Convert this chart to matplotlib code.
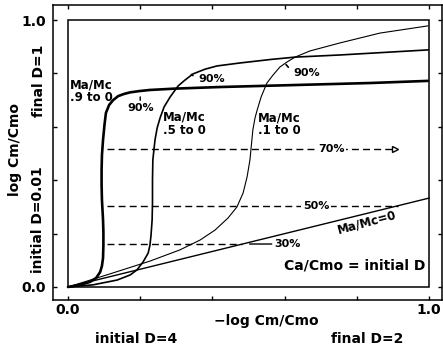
import matplotlib
matplotlib.use("Agg")
import matplotlib.pyplot as plt
from matplotlib.patches import Rectangle

plt.rcParams['font.family'] = ['DejaVu Sans']
plt.rcParams['font.weight'] = 'bold'
plt.rcParams['lines.scale_dashes'] = False

# Ma/Mc = .9 -> 0
x_09 = [0.000, 0.033, 0.061, 0.078, 0.089, 0.094, 0.097, 0.098, 0.098, 0.097, 0.094, 0.093, 0.093,
        0.094, 0.097, 0.101, 0.105, 0.114, 0.125, 0.139, 0.155, 0.172, 0.199, 0.227, 0.296, 0.421,
        0.643, 0.837, 0.997]
y_09 = [0.000, 0.008, 0.019, 0.034, 0.056, 0.079, 0.109, 0.157, 0.206, 0.251, 0.326, 0.382, 0.438,
        0.494, 0.551, 0.607, 0.652, 0.682, 0.700, 0.715, 0.723, 0.729, 0.734, 0.738, 0.743, 0.749,
        0.757, 0.764, 0.772]

# Ma/Mc = .5 -> 0
x_05 = [0.000, 0.069, 0.136, 0.172, 0.191, 0.208, 0.222, 0.227, 0.230, 0.233, 0.234, 0.234, 0.235,
        0.241, 0.247, 0.255, 0.266, 0.283, 0.305, 0.324, 0.346, 0.380, 0.413, 0.476, 0.560, 0.629,
        0.753, 0.997]
y_05 = [0.000, 0.008, 0.026, 0.045, 0.064, 0.094, 0.127, 0.157, 0.195, 0.251, 0.315, 0.401, 0.476,
        0.551, 0.596, 0.633, 0.674, 0.712, 0.753, 0.775, 0.798, 0.816, 0.828, 0.839, 0.852, 0.861,
        0.869, 0.888]

# Ma/Mc = .1 -> 0
x_01 = [0.000, 0.116, 0.227, 0.310, 0.366, 0.407, 0.443, 0.468, 0.485, 0.496, 0.504, 0.508, 0.512,
        0.518, 0.524, 0.535, 0.551, 0.568, 0.587, 0.607, 0.629, 0.670, 0.753, 0.864, 0.997]
y_01 = [0.000, 0.049, 0.097, 0.139, 0.176, 0.213, 0.258, 0.300, 0.352, 0.412, 0.476, 0.532, 0.588,
        0.633, 0.663, 0.712, 0.764, 0.794, 0.824, 0.843, 0.861, 0.884, 0.914, 0.951, 0.978]

# Ma/Mc = 0
x_00 = [0.0, 1.0]
y_00 = [0.0, 0.333]

# equal-fraction levels (dashed)
level_names = ['30%', '50%', '70%']
level_y = [0.161, 0.305, 0.517]
level_x0 = [0.108, 0.108, 0.108]
level_x1 = [0.483, 0.915, 0.905]

fig = plt.figure(figsize=(4.43, 3.51), dpi=100)
ax = fig.add_axes([53 / 443, 51 / 351, 389 / 443, 295 / 351])
ax.set_xlim(-0.0416, 1.036)
ax.set_ylim(-0.0487, 1.0562)

for sp in ax.spines.values():
    sp.set_linewidth(1.1)

ticks = [0.0, 0.2, 0.4, 0.6, 0.8, 1.0]
ax.set_xticks(ticks)
ax.set_yticks(ticks)
ax.set_xticklabels(['0.0', '', '', '', '', '1.0'])
ax.set_yticklabels(['0.0', '', '', '', '', '1.0'])
ax.tick_params(direction='in', length=3, width=1, top=True, right=True,
               labelsize=10)
ax.tick_params(axis='x', pad=2)
ax.tick_params(axis='y', pad=5)

# inner frame
ax.add_patch(Rectangle((0, 0), 1, 1, fill=False, lw=1.1, ec='black', zorder=3))

ax.plot(x_09, y_09, color='black', lw=1.9, solid_capstyle='round', solid_joinstyle='round')
ax.plot(x_05, y_05, color='black', lw=1.2, solid_joinstyle='round')
ax.plot(x_01, y_01, color='black', lw=0.8, solid_joinstyle='round')
ax.plot(x_00, y_00, color='black', lw=1.0)

for x0, x1, yv in zip(level_x0, level_x1, level_y):
    ax.plot([x0, x1], [yv, yv], color='black', lw=1.0, dashes=(5, 3))
ax.plot([level_x1[2]], [level_y[2]], marker='>', ms=5, mfc='white', mec='black', mew=1.0)

pct_kw = dict(fontsize=8, ha='center', va='center',
              bbox=dict(facecolor='white', edgecolor='none', pad=1.0))
ax.text(0.731, level_y[2], level_names[2], **pct_kw)
ax.text(0.687, level_y[1], level_names[1], **pct_kw)
ax.annotate(level_names[0], xy=(0.503, level_y[0]), xytext=(0.572, level_y[0]),
            fontsize=8, ha='left', va='center',
            arrowprops=dict(arrowstyle='-', lw=1.0, shrinkA=0, shrinkB=0, relpos=(0, 0.5)))

# 90% markers on each curve
ax.annotate('90%', xy=(0.200, 0.712), xytext=(0.200, 0.670), fontsize=8,
            ha='center', va='center',
            arrowprops=dict(arrowstyle='-', lw=1.0, shrinkA=3, shrinkB=0, relpos=(0.5, 1)))
ax.annotate('90%', xy=(0.342, 0.796), xytext=(0.360, 0.778), fontsize=8,
            ha='left', va='center',
            arrowprops=dict(arrowstyle='-', lw=1.2, shrinkA=2, shrinkB=0, relpos=(0, 0.5)))
ax.annotate('90%', xy=(0.604, 0.833), xytext=(0.623, 0.803), fontsize=8,
            ha='left', va='center',
            arrowprops=dict(arrowstyle='-', lw=1.2, shrinkA=2, shrinkB=0, relpos=(0, 0.5)))

lab_kw = dict(fontsize=8.5, ha='left', va='center', linespacing=1.0)
ax.text(0.006, 0.734, 'Ma/Mc\n.9 to 0', **lab_kw)
ax.text(0.263, 0.612, 'Ma/Mc\n.5 to 0', **lab_kw)
ax.text(0.526, 0.610, 'Ma/Mc\n.1 to 0', **lab_kw)
ax.text(0.828, 0.243, 'Ma/Mc=0', fontsize=8.5, ha='center', va='center', rotation=15)
ax.text(0.990, 0.079, 'Ca/Cmo = initial D', fontsize=10, ha='right', va='center')

fig.text(266 / 443, 30 / 351, '\u2212log Cm/Cmo', fontsize=10, ha='center', va='center')
fig.text(136 / 443, 12 / 351, 'initial D=4', fontsize=10, ha='center', va='center')
fig.text(367 / 443, 12 / 351, 'final D=2', fontsize=10, ha='center', va='center')
fig.text(15 / 443, 201 / 351, 'log Cm/Cmo', fontsize=10, ha='center', va='center', rotation=90)
fig.text(39 / 443, 270 / 351, 'final D=1', fontsize=10, ha='center', va='center', rotation=90)
fig.text(38 / 443, 131 / 351, 'initial D=0.01', fontsize=10, ha='center', va='center', rotation=90)

fig.savefig('out.png', dpi=100)
